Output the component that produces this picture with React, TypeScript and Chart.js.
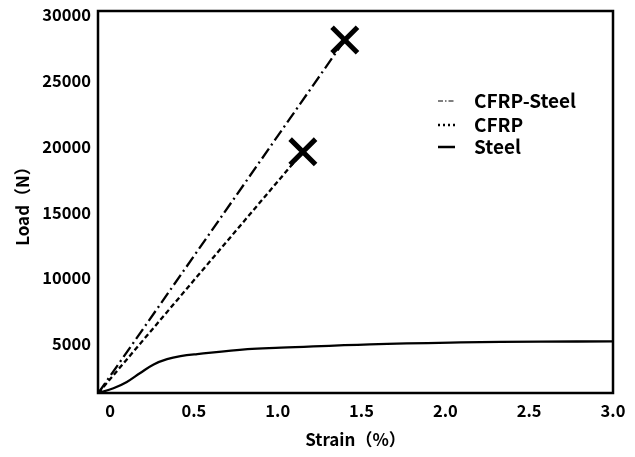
import React, { useEffect, useRef } from "react";
import { Chart, registerables } from "chart.js";

Chart.register(...registerables);

// ---- data ----
const seriesNames = ["CFRP-Steel", "CFRP", "Steel"];
const cfrpSteelStrain = [-0.07, 1.4];
const cfrpSteelLoad = [1280, 28100];
const cfrpStrain = [-0.07, 1.15];
const cfrpLoad = [1280, 19600];
const steelStrain = [-0.07, 0.02, 0.1, 0.18, 0.26, 0.34, 0.42, 0.52, 0.82, 1.02, 1.55, 2.09, 2.57, 3.0];
const steelLoad = [1280, 1640, 2120, 2800, 3450, 3850, 4080, 4240, 4620, 4720, 4980, 5120, 5180, 5200];
const xTicks = [0, 0.5, 1.0, 1.5, 2.0, 2.5, 3.0];
const yTicks = [5000, 10000, 15000, 20000, 25000, 30000];
const xTitle = "Strain（%）";
const yTitle = "Load（N）";

const FONT = "'Noto Sans CJK JP', 'Noto Sans', sans-serif";

const toPoints = (xs: number[], ys: number[]) => xs.map((x, i) => ({ x, y: ys[i] }));

const dashes: number[][] = [[12, 4, 2, 4], [5, 3], []];
const legendDashes: number[][] = [[5, 2, 1.5, 2], [2, 3], []];
const legendWidths = [1, 2.5, 2.5];

const framePlugin = {
  id: "frameLegend",
  afterDraw(chart: any) {
    const { ctx, chartArea } = chart;
    const { left, top, right, bottom } = chartArea;
    ctx.save();
    ctx.strokeStyle = "#000";
    ctx.lineWidth = 2.5;
    ctx.setLineDash([]);
    ctx.strokeRect(left, top, right - left, bottom - top);

    // legend
    const lx = left + 340;
    const ly = [top + 90, top + 114, top + 136];
    ctx.font = `bold 19px ${FONT}`;
    ctx.fillStyle = "#000";
    ctx.textBaseline = "middle";
    ctx.textAlign = "left";
    seriesNames.forEach((name, i) => {
      ctx.beginPath();
      ctx.lineWidth = legendWidths[i];
      ctx.setLineDash(legendDashes[i]);
      ctx.moveTo(lx, ly[i]);
      ctx.lineTo(lx + 17, ly[i]);
      ctx.stroke();
      ctx.setLineDash([]);
      ctx.fillText(name, lx + 36, ly[i]);
    });
    ctx.restore();
  },
};

const zeroPad = (s: any) => {
  s.paddingLeft = 0;
  s.paddingRight = 0;
  s.paddingTop = 0;
  s.paddingBottom = 0;
};

export default function App() {
  const ref = useRef<HTMLCanvasElement | null>(null);

  useEffect(() => {
    if (!ref.current) return;
    const datasets = [
      toPoints(cfrpSteelStrain, cfrpSteelLoad),
      toPoints(cfrpStrain, cfrpLoad),
      toPoints(steelStrain, steelLoad),
    ].map((data, i) => ({
      label: seriesNames[i],
      data,
      borderColor: "#000",
      backgroundColor: "#000",
      borderWidth: 2.3,
      borderDash: dashes[i],
      fill: false,
      tension: i === 2 ? 0.4 : 0,
      pointStyle: "crossRot" as const,
      pointBorderWidth: 5,
      pointRadius: (c: any) => (i < 2 && c.dataIndex === data.length - 1 ? 18 : 0),
      pointHoverRadius: 0,
      clip: false,
    }));

    const chart = new Chart(ref.current, {
      type: "line",
      data: { datasets },
      plugins: [framePlugin],
      options: {
        animation: false,
        responsive: false,
        devicePixelRatio: 1,
        layout: { autoPadding: false, padding: { top: 11, right: 22, left: 0, bottom: 0 } },
        plugins: { legend: { display: false }, tooltip: { enabled: false } },
        elements: { line: { borderCapStyle: "butt" } },
        scales: {
          x: {
            type: "linear",
            min: -0.072,
            max: 3.0,
            grid: { display: false, drawTicks: false },
            border: { display: false },
            afterBuildTicks: (s: any) => {
              s.ticks = xTicks.map((v) => ({ value: v }));
            },
            afterFit: (s: any) => {
              s.height = 64;
              zeroPad(s);
            },
            ticks: {
              color: "#000",
              padding: 8,
              autoSkip: false,
              maxRotation: 0,
              font: { family: FONT, size: 16.5, weight: "bold" },
              callback: (v: any) => (Number(v) === 0 ? "0" : Number(v).toFixed(1)),
            },
            title: {
              display: true,
              text: xTitle,
              color: "#000",
              font: { family: FONT, size: 17, weight: "bold" },
              padding: { top: 0, bottom: 7 },
            },
          },
          y: {
            type: "linear",
            min: 1280,
            max: 30300,
            grid: { display: false, drawTicks: false },
            border: { display: false },
            afterBuildTicks: (s: any) => {
              s.ticks = yTicks.map((v) => ({ value: v }));
            },
            afterFit: (s: any) => {
              s.width = 98;
              zeroPad(s);
            },
            ticks: {
              color: "#000",
              padding: 7,
              font: { family: FONT, size: 16.5, weight: "bold" },
              callback: (v: any) => String(v),
            },
            title: {
              display: true,
              text: yTitle,
              color: "#000",
              font: { family: FONT, size: 17, weight: "bold" },
              padding: { top: 12, bottom: 0 },
            },
          },
        },
      } as any,
    });
    return () => chart.destroy();
  }, []);

  return (
    <div style={{ position: "absolute", left: 0, top: 0, width: 635, height: 457, background: "#fff" }}>
      <canvas ref={ref} width={635} height={457} />
    </div>
  );
}
